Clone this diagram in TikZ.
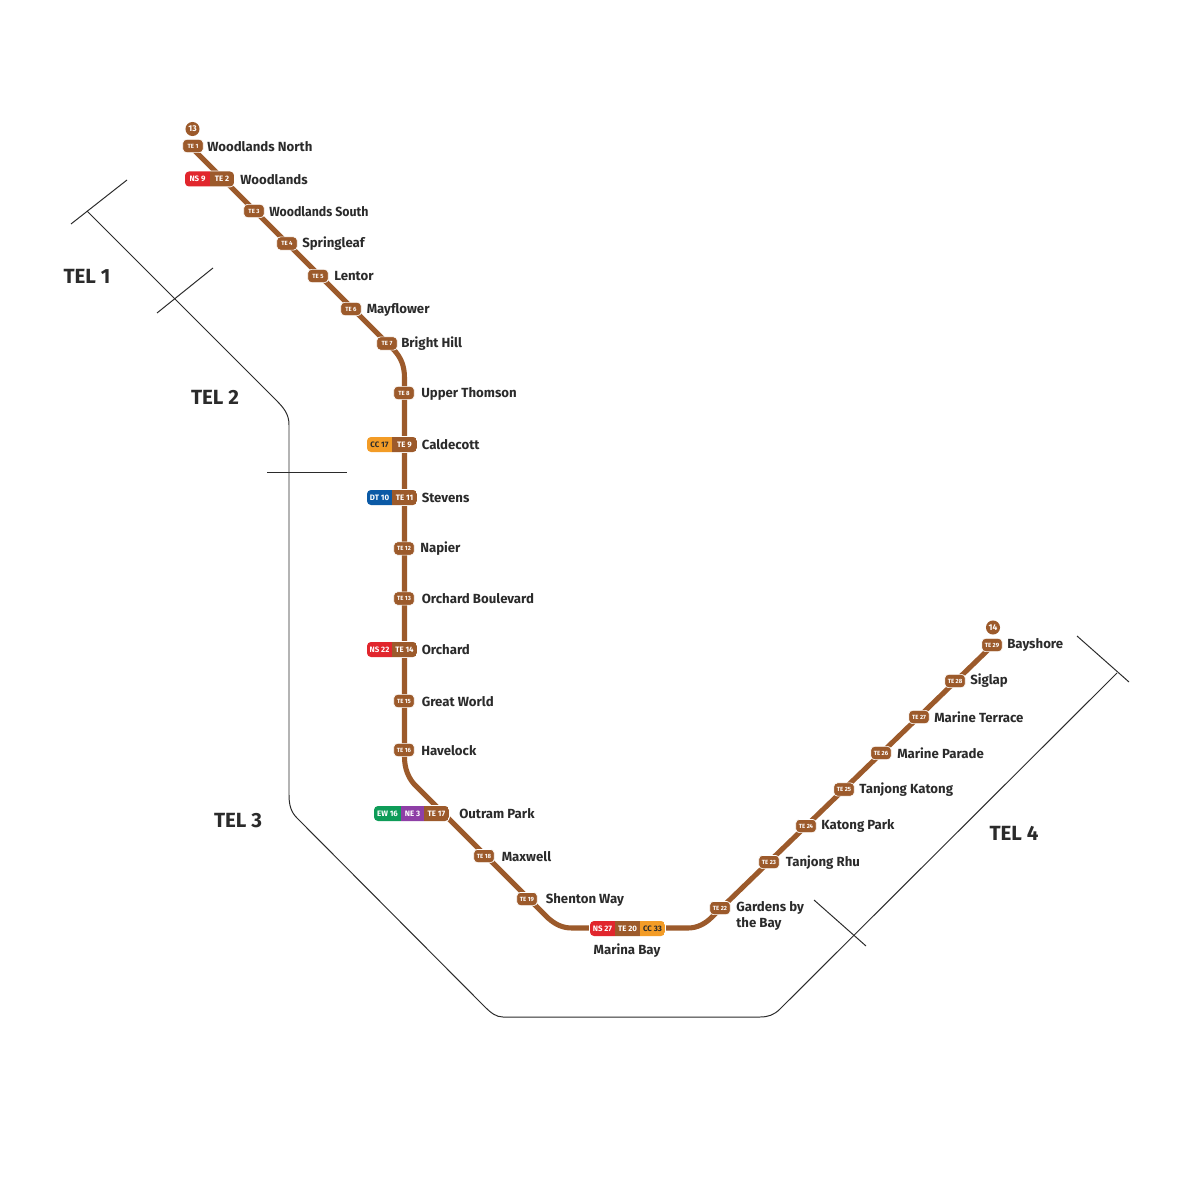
\documentclass[tikz,border=0pt]{standalone}
\usepackage{fontspec}
\setmainfont{Fira Sans}
\definecolor{brn}{HTML}{9C5A2B}
\definecolor{redc}{HTML}{E1262D}
\definecolor{orc}{HTML}{F39C26}
\definecolor{bluc}{HTML}{0B5AA6}
\definecolor{grc}{HTML}{0E9C58}
\definecolor{purc}{HTML}{8E3FA6}
\definecolor{ink}{HTML}{2B2B2B}
\tikzset{
 metro/.style={draw=brn,line width=3.6pt,line join=round},
 bound/.style={draw=ink,line width=0.7pt,line join=round},
 lab/.style={anchor=west,inner sep=0pt,text=ink,font=\fontsize{9.4}{11.4}\selectfont\bfseries,align=left},
 tel/.style={inner sep=0pt,text=ink,font=\fontsize{14.6}{15}\selectfont\bfseries},
 te/.style={fill=brn,draw=white,line width=0.5pt,rounded corners=2.6pt,minimum width=14.6pt,minimum height=9.4pt,inner sep=0pt,text=white,font=\fontsize{4.3}{4.5}\selectfont\bfseries},
 segt/.style={inner sep=0pt,font=\fontsize{5.6}{6}\selectfont\bfseries},
 term/.style={circle,fill=brn,minimum size=10pt,inner sep=0pt,text=white,font=\fontsize{6}{6}\selectfont\bfseries},
}
% name, x1, x2, y, colour, text colour, text
\newcommand\seg[7]{\fill[#5] (#2,#4-10) rectangle (#3,#4+10);
 \node[segt,text=#6] (#1) at ({(#2+#3)/2},#4) {#7};}
% x1, x2, y: start of a clipped pill
\newcommand\pillstart[3]{\fill[white,rounded corners=3.2pt] (#1-0.8,#3-8.3) rectangle (#2+0.8,#3+8.3);
 \begin{scope}\clip[rounded corners=2.8pt] (#1,#3-7.5) rectangle (#2,#3+7.5);}
\newcommand\pillend{\end{scope}}
\begin{document}
\begin{tikzpicture}[x=0.025cm,y=-0.025cm]
\useasboundingbox[fill=white] (0,0) rectangle (1200,1200);
% boundaries
\coordinate (p1) at (87,211); \coordinate (p2) at (275,399); \coordinate (p3) at (289,425);
\coordinate (p4) at (289,795); \coordinate (p5) at (297,818); \coordinate (p6) at (484,1006);
\coordinate (p7) at (503,1017); \coordinate (p8) at (760,1017); \coordinate (p9) at (780,1009);
\coordinate (p10) at (1117,673);
\draw[bound] (p1) -- (p2) .. controls (284,408) and (289,414) .. (p3) -- (p4)
  .. controls (289,805) and (291,812) .. (p5) -- (p6) .. controls (491,1013) and (496,1017) .. (p7)
  -- (p8) .. controls (768,1017) and (774,1015) .. (p9) -- (p10);
\coordinate (t1a) at (71,224); \coordinate (t1b) at (127,180);
\coordinate (t2a) at (157,313); \coordinate (t2b) at (213,268);
\coordinate (t3a) at (267,472); \coordinate (t3b) at (347,472);
\coordinate (t4a) at (1077,636); \coordinate (t4b) at (1129,682);
\coordinate (t5a) at (814,900); \coordinate (t5b) at (866,946);
\draw[bound] (t1a) -- (t1b); \draw[bound] (t2a) -- (t2b); \draw[bound] (t3a) -- (t3b);
\draw[bound] (t4a) -- (t4b); \draw[bound] (t5a) -- (t5b);
\node[tel] (tel1) at (87,276.5) {TEL 1};
\node[tel] (tel2) at (215,397.5) {TEL 2};
\node[tel] (tel3) at (238,820.5) {TEL 3};
\node[tel] (tel4) at (1014,833.5) {TEL 4};
% anchors of the line
\coordinate (a) at (190,146); \coordinate (b) at (393,349); \coordinate (c) at (404.5,378);
\coordinate (d) at (404.5,757); \coordinate (e) at (414,784); \coordinate (f) at (548,918);
\coordinate (g) at (572,928); \coordinate (h) at (688,928); \coordinate (i) at (712,917);
\coordinate (j) at (992,646);
\draw[metro] (a) -- (b) .. controls (401,357) and (404.5,366) .. (c) -- (d)
  .. controls (404.5,768) and (408,777) .. (e) -- (f) .. controls (556,925) and (563,928) .. (g)
  -- (h) .. controls (697,928) and (705,924) .. (i) -- (j);
% terminals
\node[term] (n13) at (192.5,129) {13};
\node[term] (n14) at (993,627.5) {14};
% single badges
\node[te] (te1) at (193,146) {TE 1};
\node[te] (te3) at (254,211) {TE 3};
\node[te] (te4) at (287,243.5) {TE 4};
\node[te] (te5) at (318,276) {TE 5};
\node[te] (te6) at (351,309) {TE 6};
\node[te] (te7) at (387,343.5) {TE 7};
\node[te] (te8) at (404,393) {TE 8};
\node[te] (te12) at (404,548.5) {TE 12};
\node[te] (te13) at (404,598.5) {TE 13};
\node[te] (te15) at (404,701) {TE 15};
\node[te] (te16) at (404,750) {TE 16};
\node[te] (te18) at (484,856) {TE 18};
\node[te] (te19) at (527,899) {TE 19};
\node[te] (te22) at (720,908) {TE 22};
\node[te] (te23) at (769,862) {TE 23};
\node[te] (te24) at (806,826) {TE 24};
\node[te] (te25) at (844,789.5) {TE 25};
\node[te] (te26) at (881,753) {TE 26};
\node[te] (te27) at (919,717) {TE 27};
\node[te] (te28) at (955,681) {TE 28};
\node[te] (te29) at (992,645) {TE 29};
% interchanges
\pillstart{185}{234}{179}
 \seg{ns9}{185}{210}{179}{redc}{white}{NS 9}\seg{te2}{210}{234}{179}{brn}{white}{TE 2}
\pillend
\pillstart{367}{417}{444.5}
 \seg{cc17}{367}{392}{444.5}{orc}{ink}{CC 17}\seg{te9}{392}{417}{444.5}{brn}{white}{TE 9}
\pillend
\pillstart{367}{417}{497.5}
 \seg{dt10}{367}{392}{497.5}{bluc}{white}{DT 10}\seg{te11}{392}{417}{497.5}{brn}{white}{TE 11}
\pillend
\pillstart{367}{417}{649.5}
 \seg{ns22}{367}{392}{649.5}{redc}{white}{NS 22}\seg{te14}{392}{417}{649.5}{brn}{white}{TE 14}
\pillend
\pillstart{374}{449}{813.5}
 \seg{ew16}{374}{401}{813.5}{grc}{white}{EW 16}\seg{ne3}{401}{424}{813.5}{purc}{white}{NE 3}\seg{te17}{424}{449}{813.5}{brn}{white}{TE 17}
\pillend
\pillstart{590}{665}{928.5}
 \seg{ns27}{590}{615}{928.5}{redc}{white}{NS 27}\seg{te20}{615}{640}{928.5}{brn}{white}{TE 20}\seg{cc33}{640}{665}{928.5}{orc}{ink}{CC 33}
\pillend
% labels
\node[lab] (l1) at (207,146.5) {Woodlands North};
\node[lab] (l2) at (240,179.5) {Woodlands};
\node[lab,xscale=0.935,transform shape] (l3) at (269,211.5) {Woodlands South};
\node[lab] (l4) at (302,244) {Springleaf};
\node[lab] (l5) at (334,276.5) {Lentor};
\node[lab] (l6) at (366.5,309.5) {Mayflower};
\node[lab] (l7) at (401,344) {Bright Hill};
\node[lab] (l8) at (421,393.5) {Upper Thomson};
\node[lab] (l9) at (421.5,445) {Caldecott};
\node[lab] (l11) at (421.5,498) {Stevens};
\node[lab] (l12) at (420,548.5) {Napier};
\node[lab] (l13) at (421.5,599) {Orchard Boulevard};
\node[lab] (l14) at (421.5,650) {Orchard};
\node[lab] (l15) at (421.5,701.5) {Great World};
\node[lab] (l16) at (421,750.5) {Havelock};
\node[lab] (l17) at (459,814) {Outram Park};
\node[lab] (l18) at (501.5,856.5) {Maxwell};
\node[lab] (l19) at (545.5,899.5) {Shenton Way};
\node[lab,anchor=center] (l20) at (627,951) {Marina Bay};
\node[lab] (l22) at (736,916) {Gardens by\\the Bay};
\node[lab] (l23) at (785.5,862.5) {Tanjong Rhu};
\node[lab] (l24) at (821,826) {Katong Park};
\node[lab] (l25) at (859,790) {Tanjong Katong};
\node[lab] (l26) at (897,753.5) {Marine Parade};
\node[lab] (l27) at (934,717.5) {Marine Terrace};
\node[lab] (l28) at (970,681) {Siglap};
\node[lab] (l29) at (1007,645) {Bayshore};
\end{tikzpicture}
\end{document}
